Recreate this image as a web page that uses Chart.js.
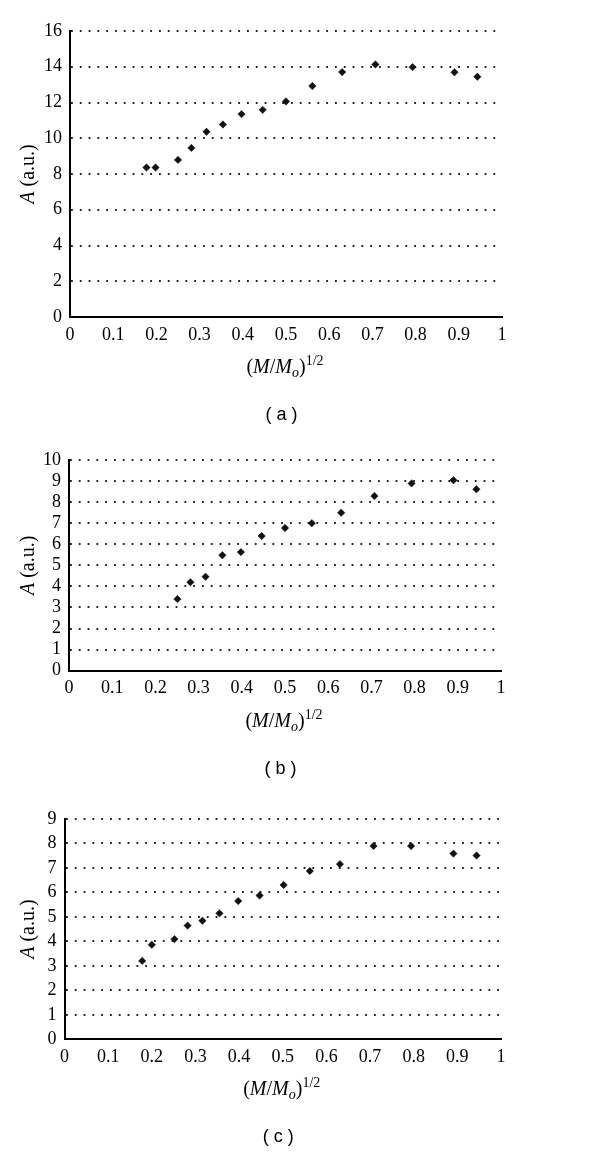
<!DOCTYPE html>
<html><head><meta charset="utf-8">
<script src="https://cdn.jsdelivr.net/npm/chart.js@4.4.0/dist/chart.umd.min.js"></script>
<style>
html,body{margin:0;padding:0;background:#fff;width:600px;height:1153px;overflow:hidden}
.p{position:absolute;left:0;width:600px}
canvas{display:block}
</style></head><body>
<div class="p" style="top:0;height:430px"><canvas id="ca" width="600" height="430"></canvas></div>
<div class="p" style="top:430px;height:370px"><canvas id="cb" width="600" height="370"></canvas></div>
<div class="p" style="top:800px;height:353px"><canvas id="cc" width="600" height="353"></canvas></div>
<script>
// ---- data ----
const xA = [0.177,0.198,0.25,0.281,0.316,0.354,0.397,0.446,0.5,0.561,0.630,0.707,0.793,0.890,0.943];
const yA = [8.36,8.36,8.79,9.46,10.36,10.77,11.35,11.59,12.06,12.92,13.70,14.13,13.98,13.69,13.44];
const xB = [0.251,0.281,0.316,0.355,0.398,0.446,0.5,0.562,0.630,0.707,0.793,0.890,0.943];
const yB = [3.40,4.20,4.46,5.48,5.63,6.39,6.77,7.00,7.50,8.29,8.89,9.04,8.61];
const xC = [0.178,0.2,0.252,0.282,0.316,0.355,0.398,0.447,0.502,0.562,0.631,0.708,0.794,0.891,0.944];
const yC = [3.20,3.86,4.09,4.64,4.84,5.14,5.64,5.87,6.30,6.87,7.15,7.89,7.89,7.58,7.50];
const xTickLabels = ['0','0.1','0.2','0.3','0.4','0.5','0.6','0.7','0.8','0.9','1'];
const captions = ['( a )','( b )','( c )'];

const SERIF = '"Liberation Serif", "Times New Roman", serif';
const SANS = '"Liberation Sans", Arial, sans-serif';

const panelText = {
  id: 'panelText',
  afterDraw(chart, args, opts) {
    const ctx = chart.ctx, a = chart.chartArea;
    const cx = (a.left + a.right) / 2;
    ctx.save();
    ctx.fillStyle = '#000';
    ctx.textAlign = 'left';
    ctx.textBaseline = 'alphabetic';
    // y title
    const yParts = [['A', 'italic 20px ' + SERIF, 0], [' (a.u.)', '20px ' + SERIF, 0]];
    let w = 0;
    yParts.forEach(p => { ctx.font = p[1]; w += ctx.measureText(p[0]).width; });
    ctx.save();
    ctx.translate(opts.yTitleX, (a.top + a.bottom) / 2);
    ctx.rotate(-Math.PI / 2);
    let x = -w / 2;
    yParts.forEach(p => { ctx.font = p[1]; ctx.fillText(p[0], x, 6.5); x += ctx.measureText(p[0]).width; });
    ctx.restore();
    // x title
    const xParts = [
      ['(', '20px ' + SERIF, 0], ['M', 'italic 20px ' + SERIF, 0], ['/', '20px ' + SERIF, 0],
      ['M', 'italic 20px ' + SERIF, 0], ['o', 'italic 14px ' + SERIF, 4], [')', '20px ' + SERIF, 0],
      ['1/2', '14px ' + SERIF, -8]
    ];
    w = 0;
    xParts.forEach(p => { ctx.font = p[1]; w += ctx.measureText(p[0]).width; });
    x = cx - 1 - w / 2;
    const base = a.bottom + 56;
    xParts.forEach(p => { ctx.font = p[1]; ctx.fillText(p[0], x, base + p[2]); x += ctx.measureText(p[0]).width; });
    // caption
    ctx.font = '18px ' + SANS;
    ctx.textAlign = 'center';
    ctx.textBaseline = 'middle';
    ctx.fillText(opts.caption, cx - 4.5, a.bottom + 98);
    ctx.restore();
  }
};

function makeChart(id, h, xs, ys, yMax, yStep, box, caption) {
  new Chart(document.getElementById(id), {
    type: 'scatter',
    data: { datasets: [{
      data: xs.map((x, i) => ({ x: x, y: ys[i] })),
      pointStyle: 'rectRot', pointRadius: 3.7, pointHoverRadius: 3.7,
      backgroundColor: '#111', borderColor: '#111', borderWidth: 0.5
    }] },
    options: {
      responsive: false, animation: false, devicePixelRatio: 1,
      layout: { padding: { top: box.top, right: 600 - box.right, left: 0, bottom: 0 } },
      plugins: { legend: { display: false }, tooltip: { enabled: false },
        panelText: { caption: caption, yTitleX: 27 } },
      scales: {
        x: {
          type: 'linear', min: 0, max: 1,
          ticks: { stepSize: 0.1, autoSkip: false, maxRotation: 0, padding: 7, color: '#000',
            font: { family: SERIF, size: 18 }, callback: (v, i) => xTickLabels[i] },
          grid: { display: false, drawTicks: false },
          border: { display: true, color: '#000', width: 2 },
          afterFit: s => { s.height = h - box.bottom; }
        },
        y: {
          min: 0, max: yMax,
          ticks: { stepSize: yStep, autoSkip: false, padding: 8, color: '#000',
            font: { family: SERIF, size: 18 }, callback: v => String(v) },
          grid: { color: '#222', lineWidth: 2, drawTicks: false },
          border: { display: true, color: '#000', width: 2, dash: [1.8, 7] },
          afterFit: s => { s.width = box.left; }
        }
      }
    },
    plugins: [panelText]
  });
}

makeChart('ca', 430, xA, yA, 16, 2, { left: 70, right: 502, top: 31, bottom: 317 }, captions[0]);
makeChart('cb', 370, xB, yB, 10, 1, { left: 69, right: 501, top: 30, bottom: 240.7 }, captions[1]);
makeChart('cc', 353, xC, yC, 9, 1, { left: 64.5, right: 501, top: 17, bottom: 239.3 }, captions[2]);
</script>
</body></html>
